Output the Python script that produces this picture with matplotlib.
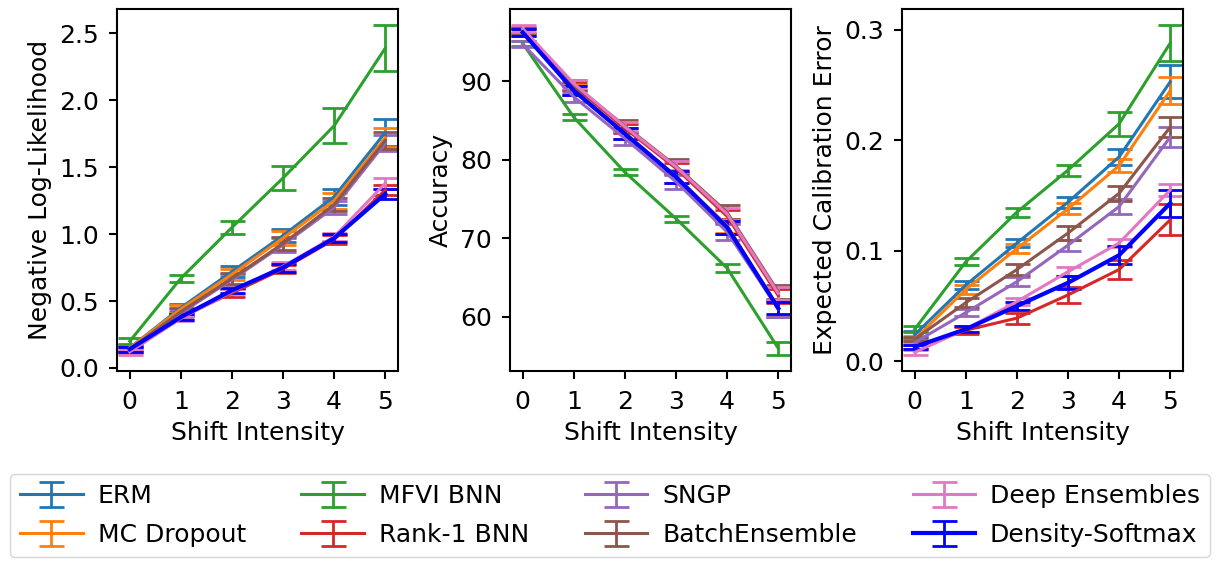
import numpy as np
import matplotlib
matplotlib.use("Agg")
import matplotlib.pyplot as plt

plt.rcParams.update({"font.size": 18})

shift = [0, 1, 2, 3, 4, 5]
methods = ["ERM", "MC Dropout", "MFVI BNN", "Rank-1 BNN", "SNGP",
           "BatchEnsemble", "Deep Ensembles", "Density-Softmax"]
colors = ["C0", "C1", "C2", "C3", "C4", "C5", "C6", "blue"]

# Negative log-likelihood (mean, error)
nll_mean = {
    "ERM":             [0.15, 0.45, 0.72, 0.99, 1.28, 1.76],
    "MC Dropout":      [0.15, 0.44, 0.70, 0.97, 1.25, 1.72],
    "MFVI BNN":        [0.20, 0.67, 1.05, 1.42, 1.81, 2.39],
    "Rank-1 BNN":      [0.14, 0.38, 0.56, 0.74, 0.96, 1.33],
    "SNGP":            [0.13, 0.41, 0.66, 0.92, 1.20, 1.68],
    "BatchEnsemble":   [0.14, 0.42, 0.67, 0.93, 1.22, 1.70],
    "Deep Ensembles":  [0.12, 0.37, 0.57, 0.76, 0.98, 1.38],
    "Density-Softmax": [0.14, 0.38, 0.58, 0.75, 0.97, 1.30],
}
nll_err = {
    "ERM":             [0.02, 0.03, 0.04, 0.05, 0.06, 0.10],
    "MC Dropout":      [0.02, 0.03, 0.04, 0.05, 0.06, 0.07],
    "MFVI BNN":        [0.02, 0.025, 0.05, 0.09, 0.13, 0.17],
    "Rank-1 BNN":      [0.02, 0.02, 0.03, 0.03, 0.03, 0.04],
    "SNGP":            [0.02, 0.03, 0.04, 0.05, 0.05, 0.06],
    "BatchEnsemble":   [0.02, 0.03, 0.04, 0.05, 0.05, 0.06],
    "Deep Ensembles":  [0.02, 0.02, 0.02, 0.03, 0.03, 0.04],
    "Density-Softmax": [0.02, 0.02, 0.02, 0.03, 0.03, 0.04],
}

# Accuracy (mean, error)
acc_mean = {
    "ERM":             [96.2, 88.9, 83.4, 77.8, 71.5, 61.0],
    "MC Dropout":      [96.2, 88.9, 83.4, 77.9, 71.6, 61.2],
    "MFVI BNN":        [94.8, 85.4, 78.4, 72.5, 66.2, 56.0],
    "Rank-1 BNN":      [96.5, 89.4, 84.0, 78.9, 72.8, 62.7],
    "SNGP":            [94.7, 88.0, 82.7, 77.2, 70.8, 61.0],
    "BatchEnsemble":   [96.4, 89.5, 84.3, 79.2, 73.3, 63.2],
    "Deep Ensembles":  [96.7, 89.7, 84.2, 79.1, 73.1, 63.0],
    "Density-Softmax": [96.2, 88.8, 83.3, 77.8, 71.4, 61.1],
}
acc_err = {
    "ERM":             [0.4, 0.6, 0.7, 0.8, 0.9, 1.0],
    "MC Dropout":      [0.4, 0.6, 0.7, 0.8, 0.9, 1.0],
    "MFVI BNN":        [0.3, 0.4, 0.4, 0.4, 0.5, 0.8],
    "Rank-1 BNN":      [0.4, 0.5, 0.6, 0.7, 0.8, 0.9],
    "SNGP":            [0.4, 0.6, 0.8, 0.9, 1.0, 1.0],
    "BatchEnsemble":   [0.4, 0.6, 0.8, 0.9, 0.9, 0.9],
    "Deep Ensembles":  [0.4, 0.5, 0.6, 0.7, 0.8, 0.8],
    "Density-Softmax": [0.4, 0.6, 0.7, 0.8, 0.8, 0.8],
}

# Expected calibration error (mean, error)
ece_mean = {
    "ERM":             [0.024, 0.069, 0.107, 0.144, 0.185, 0.253],
    "MC Dropout":      [0.020, 0.065, 0.102, 0.138, 0.177, 0.245],
    "MFVI BNN":        [0.029, 0.090, 0.135, 0.173, 0.215, 0.288],
    "Rank-1 BNN":      [0.013, 0.028, 0.039, 0.060, 0.083, 0.128],
    "SNGP":            [0.017, 0.044, 0.072, 0.105, 0.140, 0.203],
    "BatchEnsemble":   [0.020, 0.053, 0.083, 0.116, 0.152, 0.212],
    "Deep Ensembles":  [0.008, 0.029, 0.054, 0.081, 0.107, 0.155],
    "Density-Softmax": [0.013, 0.029, 0.050, 0.071, 0.096, 0.143],
}
ece_err = {
    "ERM":             [0.003, 0.004, 0.004, 0.005, 0.007, 0.015],
    "MC Dropout":      [0.003, 0.004, 0.004, 0.005, 0.006, 0.012],
    "MFVI BNN":        [0.003, 0.003, 0.004, 0.005, 0.011, 0.016],
    "Rank-1 BNN":      [0.002, 0.003, 0.005, 0.007, 0.009, 0.014],
    "SNGP":            [0.002, 0.003, 0.004, 0.005, 0.007, 0.009],
    "BatchEnsemble":   [0.002, 0.004, 0.005, 0.006, 0.007, 0.009],
    "Deep Ensembles":  [0.002, 0.003, 0.003, 0.004, 0.004, 0.005],
    "Density-Softmax": [0.002, 0.003, 0.004, 0.006, 0.008, 0.012],
}

panels = [
    (nll_mean, nll_err, "Negative Log-Likelihood", [0.0, 0.5, 1.0, 1.5, 2.0, 2.5]),
    (acc_mean, acc_err, "Accuracy", [60, 70, 80, 90]),
    (ece_mean, ece_err, "Expected Calibration Error", [0.0, 0.1, 0.2, 0.3]),
]

fig = plt.figure(figsize=(12.21, 5.63), dpi=100)
lefts = [117, 510, 902]
for (means, errs, ylabel, yticks), left in zip(panels, lefts):
    ax = fig.add_axes([left / 1221, 1 - 371 / 563, 281 / 1221, 362 / 563])
    for name, col in zip(methods, colors):
        lw = 3 if name == "Density-Softmax" else 2.2
        ax.errorbar(shift, means[name], yerr=errs[name], color=col, lw=lw,
                    capsize=9, capthick=2, elinewidth=2, label=name)
    ax.set_xlabel("Shift Intensity", labelpad=5)
    ax.set_ylabel(ylabel, labelpad=5)
    ax.set_xticks(shift)
    ax.set_yticks(yticks)
    for s in ax.spines.values():
        s.set_linewidth(1.5)
    ax.tick_params(axis="x", width=1.5, length=6, pad=8)
    ax.tick_params(axis="y", width=1.5, length=6, pad=7)

handles, labels = ax.get_legend_handles_labels()
fig.legend(handles, labels, loc="lower left", ncol=4, mode="expand",
           bbox_to_anchor=(5 / 1221, 1 / 563, 1210 / 1221, 82 / 563),
           handlelength=2.5, borderaxespad=0.2, labelspacing=0.6,
           handletextpad=0.6)

fig.savefig("out.png", dpi=100)
